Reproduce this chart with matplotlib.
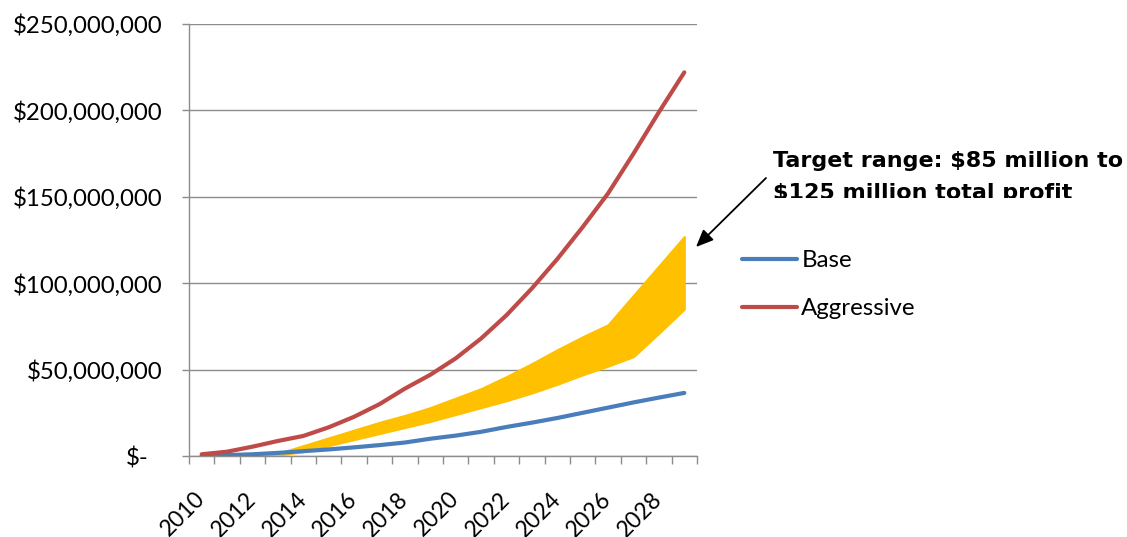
import matplotlib
matplotlib.use("Agg")
import matplotlib.pyplot as plt
from matplotlib.transforms import Bbox, ScaledTranslation
import numpy as np

# ---- data (values in millions of dollars) ----
years = [2010, 2011, 2012, 2013, 2014, 2015, 2016, 2017, 2018, 2019,
         2020, 2021, 2022, 2023, 2024, 2025, 2026, 2027, 2028, 2029]
base = [0.2, 0.5, 1.0, 1.8, 2.8, 3.8, 5.0, 6.3, 7.8, 10.0,
        11.8, 14.0, 16.8, 19.3, 22.0, 25.0, 28.0, 31.0, 33.8, 36.5]
aggressive = [1.0, 2.5, 5.4, 8.7, 11.6, 16.6, 22.7, 30.0, 39.0, 47.0,
              56.5, 68.0, 81.5, 97.0, 114.0, 132.5, 152.0, 175.0, 199.0, 222.0]
target_years = [2012, 2013, 2014, 2015, 2016, 2017, 2018, 2019, 2020, 2021,
                2022, 2023, 2024, 2025, 2026, 2027, 2028, 2029]
target_low = [0.0, 0.5, 2.5, 6.0, 9.5, 13.0, 16.5, 20.0, 24.0, 28.0,
              32.0, 36.5, 41.5, 47.0, 52.0, 57.5, 71.0, 85.0]
target_high = [0.4, 1.5, 6.0, 10.5, 15.0, 19.5, 23.5, 28.0, 33.5, 39.0,
               46.0, 53.5, 61.5, 69.0, 76.0, 93.0, 110.0, 127.0]
series_names = ["Base", "Aggressive"]
ytick_values = [0, 50, 100, 150, 200, 250]
ytick_labels = ["$-", "$50,000,000", "$100,000,000", "$150,000,000",
                "$200,000,000", "$250,000,000"]
xtick_years = [2010, 2012, 2014, 2016, 2018, 2020, 2022, 2024, 2026, 2028]
annotation_lines = ["Target range: $85 million to", "$125 million total profit"]

M = 1e6
W, H = 1127, 537
FONT = ["Lato", "DejaVu Sans"]
FS = 17.3
GRID = "#8c8c8c"

fig = plt.figure(figsize=(W / 100, H / 100), dpi=100)
ax = fig.add_axes([189 / W, 1 - 456 / H, (697 - 189) / W, (456 - 24) / H])

x = np.arange(len(years))
tx = np.array([years.index(y) for y in target_years])

ax.fill_between(tx, np.array(target_low) * M, np.array(target_high) * M,
                color="#FFC000", linewidth=1.5, edgecolor="#FFC000", zorder=2)
ax.plot(x, np.array(base) * M, color="#4A7EBB", lw=3.0,
        solid_capstyle="round", label=series_names[0], zorder=3)
ax.plot(x, np.array(aggressive) * M, color="#BE4B48", lw=3.0,
        solid_capstyle="round", label=series_names[1], zorder=3)

ax.set_xlim(-0.5, len(years) - 0.5)
ax.set_ylim(0, 250 * M)

# y axis
ax.set_yticks(np.array(ytick_values) * M)
ax.set_yticklabels(ytick_labels, fontfamily=FONT, fontsize=FS)
ax.tick_params(axis="y", length=5, width=1, color=GRID, pad=14)
ax.yaxis.grid(True, color=GRID, lw=1.0)
ax.set_axisbelow(True)

# x axis: boundary ticks (major), centered labels (minor)
ax.set_xticks(np.arange(-0.5, len(years), 1.0))
ax.set_xticklabels([])
ax.tick_params(axis="x", which="major", length=5.8, width=1, color=GRID)
ax.set_xticks([years.index(y) for y in xtick_years], minor=True)
ax.set_xticklabels([str(y) for y in xtick_years], minor=True,
                   fontfamily=FONT, fontsize=16.5, rotation=45,
                   ha="right", va="center", rotation_mode="anchor")
ax.tick_params(axis="x", which="minor", length=0, pad=28.5)

for s in ["top", "right"]:
    ax.spines[s].set_visible(False)
for s in ["left", "bottom"]:
    ax.spines[s].set_color(GRID)
    ax.spines[s].set_linewidth(1.0)

# shift "$-" label left like the accounting format
lbl0 = ax.get_yticklabels()[0]
lbl0.set_transform(lbl0.get_transform() + ScaledTranslation(-14 / 100, 0, fig.dpi_scale_trans))

# legend
leg = fig.legend(loc="center left", bbox_to_anchor=(742 / W, 1 - 284.5 / H),
                 frameon=False, borderpad=0, borderaxespad=0,
                 handlelength=2.3, handletextpad=0.17, labelspacing=1.13,
                 prop={"family": FONT, "size": FS})

# annotation text (second line clipped at the bottom as in the source)
clip = Bbox.from_extents(0, H - 197.5, W, H)
t1 = fig.text(773 / W, 1 - 167 / H, annotation_lines[0], fontsize=16,
              fontweight="bold", family="DejaVu Sans", va="baseline", ha="left")
t2 = fig.text(773 / W, 1 - 199 / H, annotation_lines[1], fontsize=16,
              fontweight="bold", family="DejaVu Sans", va="baseline", ha="left")
t2.set_clip_box(clip)
t2.set_clip_on(True)

ax.annotate("", xy=(696, H - 247), xycoords="figure pixels",
            xytext=(766, H - 178), textcoords="figure pixels",
            arrowprops=dict(arrowstyle="-|>,head_length=0.7,head_width=0.3",
                            color="black", lw=1.3, mutation_scale=15,
                            shrinkA=0, shrinkB=0),
            annotation_clip=False)

fig.savefig("out.png", dpi=100)
